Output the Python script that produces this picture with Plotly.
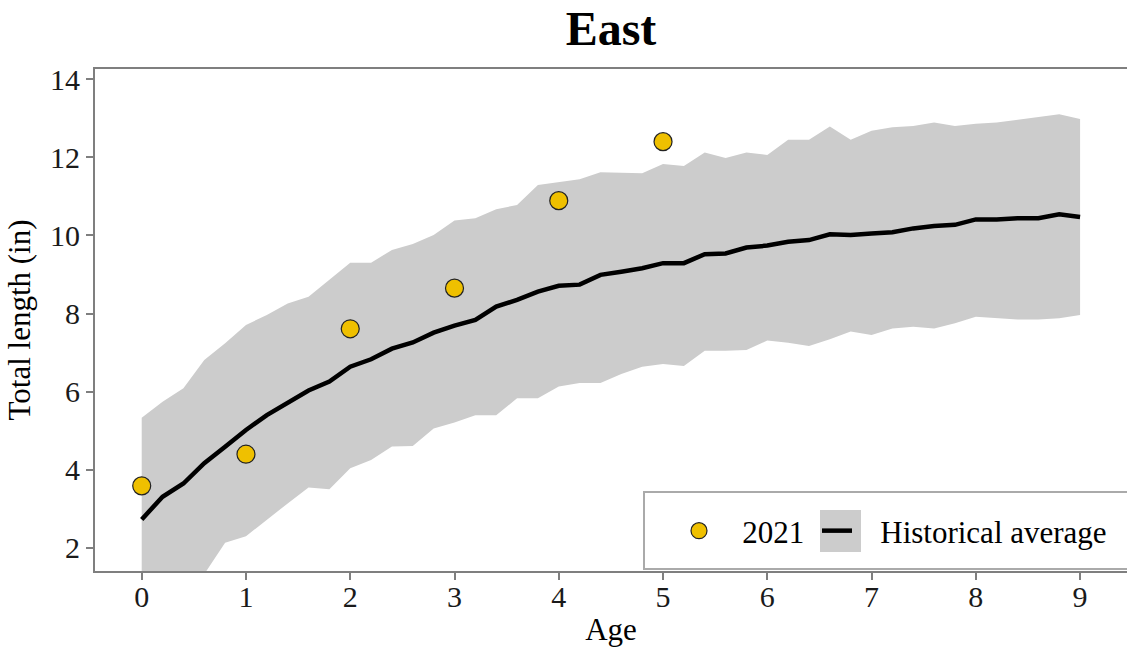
import plotly.graph_objects as go

ages = [0.0, 0.2, 0.4, 0.6, 0.8, 1.0, 1.2, 1.4, 1.6, 1.8,
        2.0, 2.2, 2.4, 2.6, 2.8, 3.0, 3.2, 3.4, 3.6, 3.8,
        4.0, 4.2, 4.4, 4.6, 4.8, 5.0, 5.2, 5.4, 5.6, 5.8,
        6.0, 6.2, 6.4, 6.6, 6.8, 7.0, 7.2, 7.4, 7.6, 7.8,
        8.0, 8.2, 8.4, 8.6, 8.8, 9.0]

hist_mean = [2.73, 3.31, 3.65, 4.17, 4.59, 5.02, 5.40, 5.70, 6.03, 6.26,
             6.64, 6.83, 7.10, 7.26, 7.51, 7.69, 7.84, 8.18, 8.35, 8.56,
             8.71, 8.74, 8.99, 9.07, 9.16, 9.29, 9.29, 9.52, 9.54, 9.69,
             9.74, 9.84, 9.88, 10.03, 10.01, 10.05, 10.08, 10.18, 10.24, 10.27,
             10.41, 10.41, 10.44, 10.44, 10.54, 10.47]

hist_upper = [5.33, 5.74, 6.09, 6.81, 7.24, 7.71, 7.96, 8.26, 8.43, 8.86,
              9.30, 9.30, 9.63, 9.78, 10.01, 10.38, 10.44, 10.67, 10.78, 11.29,
              11.36, 11.44, 11.62, 11.61, 11.59, 11.83, 11.78, 12.12, 11.98, 12.12,
              12.06, 12.45, 12.45, 12.79, 12.45, 12.68, 12.77, 12.80, 12.89, 12.80,
              12.86, 12.89, 12.96, 13.03, 13.10, 12.98]

hist_lower = [0.30, 0.60, 0.95, 1.33, 2.13, 2.30, 2.71, 3.14, 3.55, 3.50,
              4.04, 4.25, 4.60, 4.61, 5.06, 5.21, 5.40, 5.40, 5.83, 5.83,
              6.13, 6.22, 6.22, 6.45, 6.64, 6.71, 6.66, 7.05, 7.05, 7.07,
              7.31, 7.25, 7.17, 7.34, 7.54, 7.45, 7.62, 7.66, 7.62, 7.75,
              7.92, 7.88, 7.85, 7.85, 7.88, 7.96]

ages_2021 = [0, 1, 2, 3, 4, 5]
length_2021 = [3.59, 4.40, 7.61, 8.65, 10.89, 12.40]

x_ticks = [0, 1, 2, 3, 4, 5, 6, 7, 8, 9]
y_ticks = [2, 4, 6, 8, 10, 12, 14]

FONT = "Liberation Serif"
BAND = "#CCCCCC"
GOLD = "#EFC000"
AXIS = "#7F7F7F"
FS = 31

fig = go.Figure()

fig.add_trace(go.Scatter(
    x=ages + ages[::-1], y=hist_upper + hist_lower[::-1],
    fill="toself", fillcolor=BAND, line=dict(width=0, color=BAND),
    mode="lines", hoverinfo="skip", showlegend=False))

fig.add_trace(go.Scatter(
    x=ages, y=hist_mean, mode="lines",
    line=dict(color="black", width=4.5),
    name="\u00a0\u00a0\u00a0Historical average", legendrank=2))

fig.add_trace(go.Scatter(
    x=ages_2021, y=length_2021, mode="markers",
    marker=dict(size=18, color=GOLD, line=dict(color="#222222", width=1.2)),
    name="\u00a0\u00a0\u00a02021\u00a0", legendrank=1))

W, H = 1127, 654
ML, MR, MT, MB = 95, 0, 69, 83
pw = W - ML - MR
ph = H - MT - MB


def px_x(p):
    return (p - ML) / pw


def px_y(p):
    return (H - MB - p) / ph


fig.update_layout(
    width=W, height=H,
    margin=dict(l=ML, r=MR, t=MT, b=MB),
    paper_bgcolor="white", plot_bgcolor="white",
    font=dict(family=FONT, size=FS, color="black"),
    title=dict(text="<b>East</b>", x=0.5, xref="paper", xanchor="center",
               y=1 - 28 / H, yref="container", yanchor="middle",
               font=dict(family=FONT, size=48, color="black")),
    xaxis=dict(range=[-0.448, 9.45], tickvals=x_ticks, showgrid=False, zeroline=False,
               showline=True, linecolor=AXIS, linewidth=2, mirror=True,
               ticks="outside", ticklen=7, tickwidth=2, tickcolor=AXIS,
               ticklabelstandoff=-9,
               tickfont=dict(size=30, color="#1a1a1a"),
               title=dict(text="Age", font=dict(size=FS), standoff=6)),
    yaxis=dict(range=[1.41, 14.26], tickvals=y_ticks, showgrid=False, zeroline=False,
               showline=True, linecolor=AXIS, linewidth=2,
               ticks="outside", ticklen=7, tickwidth=2, tickcolor=AXIS,
               tickfont=dict(size=30, color="#1a1a1a"),
               title=dict(text="Total length (in)", font=dict(size=FS), standoff=10)),
    legend=dict(orientation="h", x=px_x(679), xanchor="left",
                y=px_y(531), yanchor="middle", bgcolor="rgba(0,0,0,0)",
                borderwidth=0, font=dict(size=FS, family=FONT)),
    shapes=[
        dict(type="rect", xref="paper", yref="paper",
             x0=px_x(644), x1=px_x(1135), y0=px_y(569), y1=px_y(492),
             fillcolor="white", line=dict(color="#AAAAAA", width=2), layer="above"),
        dict(type="rect", xref="paper", yref="paper",
             x0=px_x(820), x1=px_x(861), y0=px_y(552), y1=px_y(510),
             fillcolor=BAND, line=dict(width=0), layer="above"),
    ],
)

fig.write_html("out.html")
